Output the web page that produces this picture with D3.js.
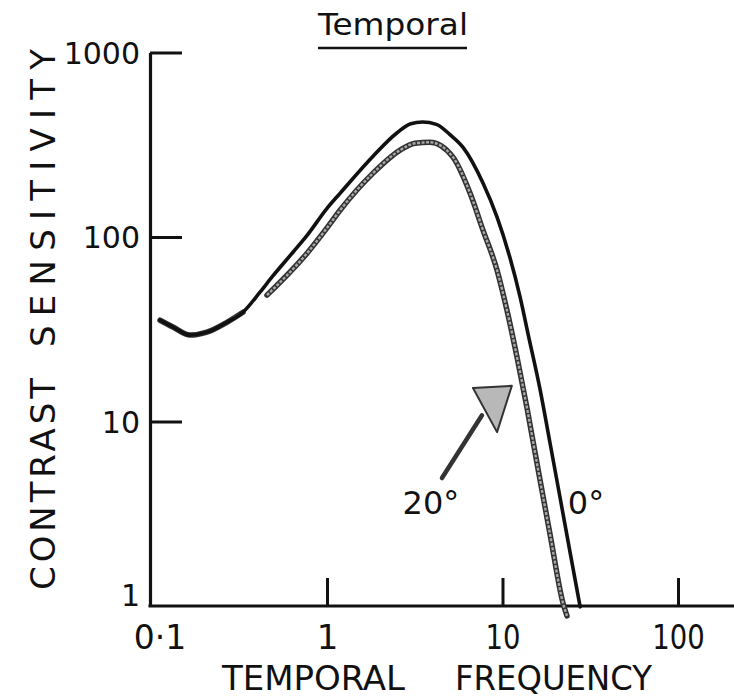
<!DOCTYPE html>
<html>
<head>
<meta charset="utf-8">
<script src="https://cdn.jsdelivr.net/npm/d3@7"></script>
<style>
  html, body { margin: 0; padding: 0; background: #fff; }
  svg { display: block; font-family: "DejaVu Sans", sans-serif; }
</style>
</head>
<body>
<svg id="chart" width="734" height="698"></svg>
<script>
// ---- data ----
const xTickValues = [0.1, 1, 10, 100];
const xTickLabels = ["0·1", "1", "10", "100"];
const yTickValues = [1, 10, 100, 1000];
const yTickLabels = ["1", "10", "100", "1000"];

// 0° eccentricity curve (temporal frequency, contrast sensitivity)
const freq0 = [0.1118, 0.1326, 0.166, 0.207, 0.269, 0.332, 0.415, 0.49, 0.64, 0.77, 1.0, 1.19, 1.83, 2.5, 3.0, 3.5, 4.2, 5.0, 5.96, 7.74, 9.31, 11.0, 12.6, 14.0, 16.4, 18.7, 21.3, 24.3, 27.7];
const sens0 = [35.4, 32.5, 29.4, 30.5, 34.5, 39.1, 50.2, 61.3, 82.7, 102, 143, 173, 274, 366, 411, 420, 408, 360, 306, 196, 128, 77.8, 47.2, 29.7, 14.8, 7.55, 3.85, 1.94, 0.99];

// 20° eccentricity curve (null = gap in the drawn line)
const freq20 = [0.1118, 0.1326, 0.166, 0.207, 0.269, 0.332, 0.40, 0.455, 0.77, 1.0, 1.19, 1.83, 2.6, 3.17, 3.86, 5.22, 6.53, 7.74, 9.31, 10.6, 12.1, 13.8, 15.9, 18.7, 22.1, 23.3];
const sens20 = [35.4, 32.5, 29.4, 30.5, 34.5, 39.1, null, 48.4, 81.7, 112, 140, 222, 295, 322, 326, 271, 173, 109, 66.1, 40.1, 22.3, 11.8, 5.59, 2.42, 1.04, 0.883];

// annotation arrow (data units)
const arrowShaftF = [4.52, 7.64];
const arrowShaftS = [4.94, 10.8];
const arrowHeadF = [6.79, 11.3, 9.31];
const arrowHeadS = [15.2, 15.6, 8.76];

const curveLabels = ["20°", "0°"];
const curveLabelF = [3.91, 29.9];
const curveLabelS = [3.15, 3.15];

const titleText = "Temporal";
const xTitleWords = ["TEMPORAL", "FREQUENCY"];
const yTitleWords = ["CONTRAST", "SENSITIVITY"];

// ---- layout ----
const W = 734, H = 698;
const svg = d3.select("#chart");

const x = d3.scaleLog().domain([0.1, 100]).range([151.5, 678]);
const y = d3.scaleLog().domain([1, 1000]).range([606, 52.5]);

const ink = "#111";

// y axis
const yAxis = d3.axisLeft(y)
  .tickValues(yTickValues)
  .tickFormat((d, i) => yTickLabels[i])
  .tickSize(-32)
  .tickSizeOuter(0)
  .tickPadding(10);
const gy = svg.append("g").attr("transform", `translate(${x(0.1) - 1.5},0)`).call(yAxis);
gy.select(".domain").attr("stroke", ink).attr("stroke-width", 3.2);
gy.selectAll(".tick line").attr("stroke", ink).attr("stroke-width", 3);
gy.selectAll(".tick").filter(d => d === 1).select("line").remove();
gy.selectAll(".tick text")
  .attr("fill", ink)
  .attr("font-size", 30)
  .attr("font-family", "DejaVu Sans, sans-serif")
  .attr("dy", d => d === 1 ? "-0.02em" : "0.36em");

// x axis
const xAxis = d3.axisBottom(x)
  .tickValues(xTickValues)
  .tickFormat((d, i) => xTickLabels[i])
  .tickSize(-28)
  .tickSizeOuter(0)
  .tickPadding(12);
const gx = svg.append("g").attr("transform", `translate(0,${y(1)})`).call(xAxis);
gx.select(".domain").remove();
gx.append("line")
  .attr("x1", x(0.1) - 3).attr("x2", W)
  .attr("y1", 0).attr("y2", 0)
  .attr("stroke", ink).attr("stroke-width", 3.2);
gx.selectAll(".tick").filter(d => d === 0.1).select("line").remove();
gx.selectAll(".tick line").attr("stroke", ink).attr("stroke-width", 3);
gx.selectAll(".tick text")
  .attr("fill", ink)
  .attr("font-size", 34)
  .attr("font-family", "DejaVu Sans, sans-serif")
  .attr("dy", "0.9em")
  .attr("dx", d => d === 0.1 ? 8 : 0)
  .each(function(d, i) {
    const lbl = xTickLabels[i];
    if (lbl.length > 1) {
      d3.select(this).attr("textLength", lbl.length * 17.5).attr("lengthAdjust", "spacingAndGlyphs");
    }
  });

// curves
const line = d3.line()
  .defined(d => d[1] != null)
  .x(d => x(d[0]))
  .y(d => y(d[1]))
  .curve(d3.curveMonotoneX);

const data20 = freq20.map((f, i) => [f, sens20[i]]);
const data0 = freq0.map((f, i) => [f, sens0[i]]);

svg.append("path").datum(data20)
  .attr("d", line).attr("fill", "none")
  .attr("stroke", "#333").attr("stroke-width", 5.5)
  .attr("stroke-linecap", "round").attr("stroke-linejoin", "round");
svg.append("path").datum(data20)
  .attr("d", line).attr("fill", "none")
  .attr("stroke", "#a8a8a8").attr("stroke-width", 2.4)
  .attr("stroke-dasharray", "3,1.5");

svg.append("path").datum(data0)
  .attr("d", line).attr("fill", "none")
  .attr("stroke", ink).attr("stroke-width", 3.6)
  .attr("stroke-linecap", "round").attr("stroke-linejoin", "round");

// arrow annotation
svg.append("line")
  .attr("x1", x(arrowShaftF[0])).attr("y1", y(arrowShaftS[0]))
  .attr("x2", x(arrowShaftF[1])).attr("y2", y(arrowShaftS[1]))
  .attr("stroke", "#333").attr("stroke-width", 4.5).attr("stroke-linecap", "round");
svg.append("polygon")
  .attr("points", arrowHeadF.map((f, i) => `${x(f)},${y(arrowHeadS[i])}`).join(" "))
  .attr("fill", "#b8b8b8").attr("stroke", "#333").attr("stroke-width", 2)
  .attr("stroke-linejoin", "round");

// curve labels
svg.selectAll("text.curve-label").data(curveLabels).enter().append("text")
  .attr("class", "curve-label")
  .attr("x", (d, i) => x(curveLabelF[i]))
  .attr("y", (d, i) => y(curveLabelS[i]))
  .attr("text-anchor", "middle")
  .attr("font-size", 32)
  .attr("fill", ink)
  .text(d => d);

// title with underline
svg.append("text")
  .attr("x", 393).attr("y", 35)
  .attr("text-anchor", "middle")
  .attr("font-size", 31)
  .attr("fill", ink)
  .attr("textLength", 150).attr("lengthAdjust", "spacingAndGlyphs")
  .text(titleText);
svg.append("line")
  .attr("x1", 318).attr("x2", 467).attr("y1", 48).attr("y2", 48)
  .attr("stroke", ink).attr("stroke-width", 2.6);

// x title
svg.append("text")
  .attr("x", 222).attr("y", 690)
  .attr("font-size", 34).attr("fill", ink)
  .attr("textLength", 183).attr("lengthAdjust", "spacing")
  .text(xTitleWords[0]);
svg.append("text")
  .attr("x", 455).attr("y", 690)
  .attr("font-size", 34).attr("fill", ink)
  .attr("textLength", 197).attr("lengthAdjust", "spacingAndGlyphs")
  .text(xTitleWords[1]);

// y title (rotated)
svg.append("text")
  .attr("transform", "translate(55,590) rotate(-90)")
  .attr("font-size", 34).attr("fill", ink)
  .attr("textLength", 212).attr("lengthAdjust", "spacing")
  .text(yTitleWords[0]);
svg.append("text")
  .attr("transform", "translate(55,347) rotate(-90)")
  .attr("font-size", 34).attr("fill", ink)
  .attr("textLength", 298).attr("lengthAdjust", "spacing")
  .text(yTitleWords[1]);
</script>
</body>
</html>
